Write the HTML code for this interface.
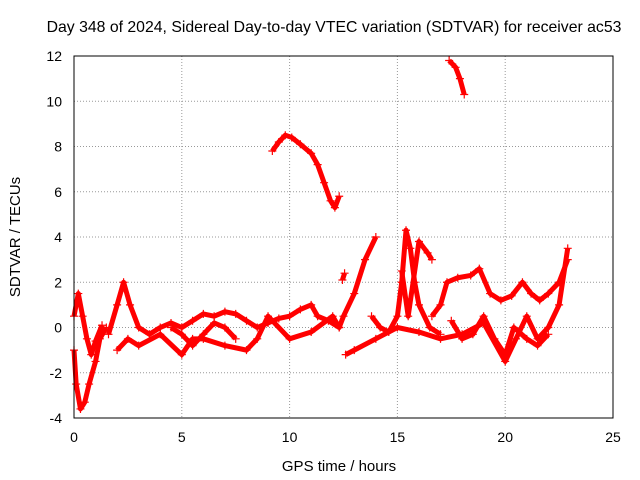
<!DOCTYPE html>
<html><head><meta charset="utf-8"><style>
body{margin:0;background:#fff}
svg{display:block;font-family:"Liberation Sans",sans-serif}
</style></head><body>
<svg width="640" height="480">
<rect width="640" height="480" fill="#fff"/>
<text x="334" y="32" font-size="15.8" text-anchor="middle">Day 348 of 2024, Sidereal Day-to-day VTEC variation (SDTVAR) for receiver ac53</text>
<g id="grid"></g>
<g id="ticks" font-size="14"></g>
<g id="plot"></g>
<rect x="74" y="56" width="539" height="362" fill="none" stroke="#000"/>
<text x="339" y="471" font-size="15" text-anchor="middle">GPS time / hours</text>
<text transform="translate(20,237) rotate(-90)" font-size="15" text-anchor="middle">SDTVAR / TECUs</text>
</svg>
<script>
const xTicks=[0,5,10,15,20,25];
const yTicks=[-4,-2,0,2,4,6,8,10,12];
const tracks=[
[[9.2,7.8],[9.5,8.2],[9.8,8.5],[10.1,8.4],[10.5,8.1],[11,7.7],[11.3,7.2],[11.6,6.4],[11.9,5.6],[12.1,5.3],[12.3,5.8]],
[[17.4,11.8],[17.7,11.5],[17.9,11],[18.1,10.3]],
[[0,-1],[0.1,-2.5],[0.3,-3.6],[0.5,-3.3],[0.7,-2.5],[1,-1.5],[1.2,-0.5],[1.5,0]],
[[0,0.5],[0.2,1.5],[0.4,0.5],[0.6,-0.5],[0.8,-1.2],[1,-0.6],[1.3,0.1]],
[[1.6,-0.3],[2,1],[2.3,2],[2.6,1],[3,0],[3.5,-0.3],[4,0],[4.5,0.2],[5,0],[5.5,0.3],[6,0.6],[6.5,0.5],[7,0.7],[7.5,0.6],[8,0.3],[8.5,0],[9,0.2],[9.5,0.4],[10,0.5],[10.5,0.8],[11,1],[11.3,0.5],[11.8,0.3],[12.3,0],[12.5,0.5],[13,1.5],[13.5,3],[14,4]],
[[2,-1],[2.5,-0.5],[3,-0.8],[4,-0.3],[5,-1.2],[5.5,-0.5],[6,-0.5],[7,-0.8],[8,-1],[8.5,-0.5],[9,0.5],[10,-0.5],[11,-0.2],[12,0.5],[12.3,0]],
[[4.5,0],[5,-0.3],[5.5,-0.8],[6,-0.3],[6.5,0.2],[7,0],[7.5,-0.5]],
[[12.6,-1.2],[13,-1],[14,-0.5],[15,0],[16,-0.2],[17,-0.5],[18,-0.3],[19,0.2],[20,-1.5],[20.5,-0.5],[21,0.5],[21.5,-0.5],[22,0],[22.5,1],[22.9,3.5]],
[[13.8,0.5],[14.2,0],[14.6,-0.2],[15,0.5],[15.2,2],[15.4,4.3],[15.6,3.5],[15.8,2],[16,1],[16.5,0],[17,-0.3]],
[[15.2,2.5],[15.5,0.5],[16,3.8],[16.4,3.3],[16.6,3]],
[[16.6,0.5],[17,1],[17.3,2],[17.8,2.2],[18.4,2.3],[18.8,2.6],[19.3,1.5],[19.8,1.2],[20.3,1.4],[20.8,2],[21.2,1.5],[21.6,1.2],[22,1.5],[22.5,2],[22.9,3]],
[[17.5,0.3],[18,-0.5],[18.5,-0.3],[19,0.5],[19.5,-0.5],[20,-1.2],[20.4,0],[21,-0.5],[21.5,-0.8],[22,-0.3]],
[[12.45,2.1],[12.55,2.4]]
];
const X=v=>74+v*539/25, Y=v=>418-(v+4)*362/16;
const NS="http://www.w3.org/2000/svg";
const grid=document.getElementById('grid'),ticks=document.getElementById('ticks'),plot=document.getElementById('plot');
function mk(t,a,p){const e=document.createElementNS(NS,t);for(const k in a)e.setAttribute(k,a[k]);p.appendChild(e);return e;}
xTicks.forEach(v=>{
 const l=mk('line',{x1:X(v),x2:X(v),y1:56,y2:418,stroke:'#999','stroke-dasharray':'1,2'},grid);
 
 
 const t=mk('text',{x:X(v),y:442,'text-anchor':'middle'},ticks);t.textContent=v;
 
 
});
yTicks.forEach(v=>{
 const l=mk('line',{x1:74,x2:613,y1:Y(v),y2:Y(v),stroke:'#999','stroke-dasharray':'1,2'},grid);
 
 
 const t=mk('text',{x:62,y:Y(v)+5,'text-anchor':'end'},ticks);t.textContent=v;
 
 
});
tracks.forEach(tr=>{
 const p=mk('polyline',{points:tr.map(d=>X(d[0])+','+Y(d[1])).join(' '),fill:'none',stroke:'#f00','stroke-width':5,'stroke-linejoin':'round'},plot);
 
 
 tr.forEach(d=>{
  const m=mk('path',{d:`M${X(d[0])-4},${Y(d[1])}h8M${X(d[0])},${Y(d[1])-4}v8`,stroke:'#f00','stroke-width':1.2},plot);
  
  
 });
});
</script>
</body></html>
